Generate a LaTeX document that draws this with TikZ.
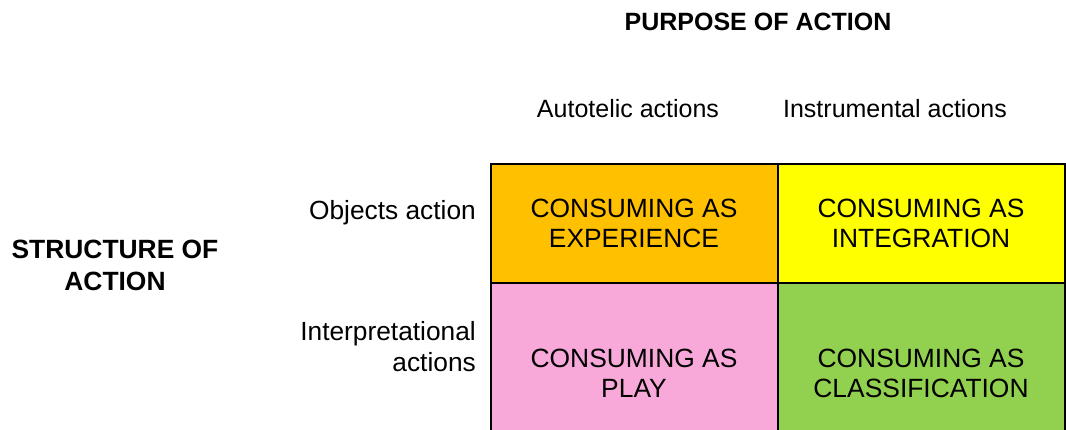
\documentclass[tikz,border=0pt]{standalone}
\usepackage{fontspec}
\setmainfont{Liberation Sans}
\definecolor{expcol}{HTML}{FFC000}
\definecolor{intcol}{HTML}{FFFF00}
\definecolor{playcol}{HTML}{F9A9D9}
\definecolor{clscol}{HTML}{92D050}
\begin{document}
\begin{tikzpicture}[x=1pt,y=-1pt,
  cell/.style={draw=black, line width=2pt, minimum width=287pt, inner sep=0pt,
    align=center, font=\fontsize{26.4}{30}\selectfont},
  lab/.style={font=\fontsize{25}{32}\selectfont, inner sep=0pt},
  rowlab/.style={font=\fontsize{26.3}{31}\selectfont, inner sep=0pt},
  head/.style={font=\bfseries\fontsize{25}{32}\selectfont, inner sep=0pt, align=center}]
\useasboundingbox (0,0) rectangle (1066,430);
\clip (0,0) rectangle (1066,430);

% the four quadrants
\node[cell, fill=expcol, minimum height=119pt] (exp) at (634,223.5) {CONSUMING AS\\EXPERIENCE};
\node[cell, fill=intcol, minimum height=119pt] (int) at (921,223.5) {CONSUMING AS\\INTEGRATION};
\node[cell, fill=playcol, minimum height=180pt] (play) at (634,373) {CONSUMING AS\\PLAY};
\node[cell, fill=clscol, minimum height=180pt] (cls) at (921,373) {CONSUMING AS\\CLASSIFICATION};

% column headings
\node[head, anchor=base] (purpose) at (758,31) {PURPOSE OF ACTION};
\node[lab, anchor=base] (auto) at (628,118) {Autotelic actions};
\node[lab, anchor=base] (instr) at (895,118) {Instrumental actions};

% row headings
\node[head, font=\bfseries\fontsize{26.4}{32}\selectfont] (structure) at (115,265) {STRUCTURE OF\\ACTION};
\node[rowlab, anchor=base east] (objects) at (476,220) {Objects action};
\node[rowlab, anchor=east, align=right] (interp) at (476,347) {Interpretational\\actions};
\end{tikzpicture}
\end{document}
